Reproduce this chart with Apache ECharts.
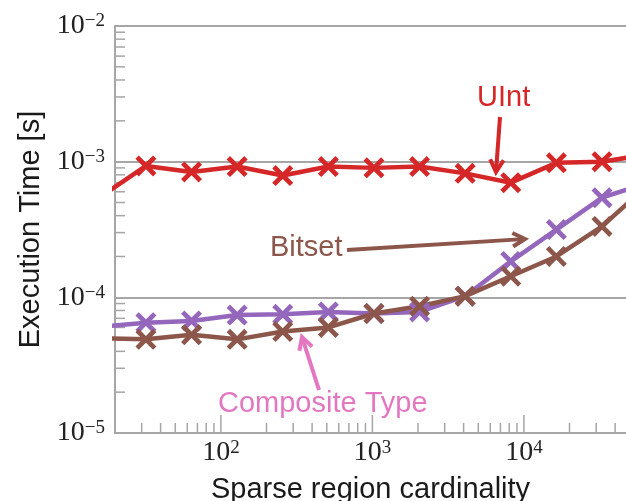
<!DOCTYPE html>
<html>
<head>
<meta charset="utf-8">
<script src="https://cdn.jsdelivr.net/npm/echarts@6/dist/echarts.min.js"></script>
<style>
html,body{margin:0;padding:0;background:#fff;}
#chart{width:626px;height:501px;}
</style>
</head>
<body>
<div id="chart"></div>
<script>
// ---- data ----
const cardinality = [16, 32, 64, 128, 256, 512, 1024, 2048, 4096, 8192, 16384, 32768, 65536];
const uintTime      = [5.5e-4, 9.3e-4, 8.4e-4, 9.2e-4, 7.9e-4, 9.2e-4, 9.0e-4, 9.2e-4, 8.2e-4, 7.0e-4, 9.8e-4, 1.0e-3, 1.13e-3];
const compositeTime = [6.05e-5, 6.5e-5, 6.7e-5, 7.4e-5, 7.5e-5, 7.8e-5, 7.6e-5, 7.8e-5, 1.02e-4, 1.84e-4, 3.16e-4, 5.43e-4, 7.0e-4];
const bitsetTime    = [5.0e-5, 4.9e-5, 5.3e-5, 4.9e-5, 5.6e-5, 6.0e-5, 7.6e-5, 8.6e-5, 1.02e-4, 1.43e-4, 2.0e-4, 3.33e-4, 6.7e-4];

const xMin = 20, xMax = 47200;
const yMin = 1e-5, yMax = 1e-2;
const xMajorTicks = [100, 1000, 10000];
const xMinorTicks = [30,40,50,60,70,80,90,200,300,400,500,600,700,800,900,2000,3000,4000,5000,6000,7000,8000,9000,20000,30000,40000];
const yMinorTicks = [2e-5,3e-5,4e-5,5e-5,6e-5,7e-5,8e-5,9e-5,2e-4,3e-4,4e-4,5e-4,6e-4,7e-4,8e-4,9e-4,2e-3,3e-3,4e-3,5e-3,6e-3,7e-3,8e-3,9e-3];

const RED = '#d62728', PURPLE = '#9467bd', BROWN = '#8c564b', PINK = '#e377c2';
const GRAY = '#a6a6a6';
const XSYM = 'path://M0,16L16,0L50,34L84,0L100,16L66,50L100,84L84,100L50,66L16,100L0,84L34,50Z';

function pairs(ys){ return cardinality.map((x,i)=>[x, ys[i]]); }

function isPow10(v){ const e=Math.round(Math.log10(v)); return Math.abs(v/Math.pow(10,e)-1)<1e-6; }
function powLabel(v){
  if(!isPow10(v)) return '';
  const e=Math.round(Math.log10(v));
  const s = (e<0? '\u2212':'') + Math.abs(e);
  return '{b|10}{s|' + s + '}';
}
const richStyle = {
  b:{fontFamily:'Liberation Serif', fontSize:28, lineHeight:28, color:'#222'},
  s:{fontFamily:'Liberation Serif', fontSize:19, lineHeight:19, color:'#222', verticalAlign:'top'}
};

function tickSeries(data, horizontal, len){
  return {
    type:'custom', silent:true, z:1,
    data: data,
    renderItem: function(params, api){
      const p = api.coord([api.value(0), api.value(1)]);
      const shape = horizontal ? {x1:p[0], y1:p[1], x2:p[0]+len, y2:p[1]} : {x1:p[0], y1:p[1], x2:p[0], y2:p[1]-len};
      return {type:'line', shape:shape, style:{stroke:GRAY, lineWidth:1.5}};
    }
  };
}

function lineSeries(name, ys, color){
  return {
    name:name, type:'line', data:pairs(ys), clip:true,
    symbol:XSYM, symbolSize:21, showAllSymbol:true,
    lineStyle:{color:color, width:4.5},
    itemStyle:{color:color, borderWidth:0},
    emphasis:{disabled:true}
  };
}

function arrow(x1,y1,x2,y2,color){
  const ang = Math.atan2(y2-y1, x2-x1);
  const L = 14, a = 0.5;
  const p1 = [x2 - L*Math.cos(ang-a), y2 - L*Math.sin(ang-a)];
  const p2 = [x2 - L*Math.cos(ang+a), y2 - L*Math.sin(ang+a)];
  return [
    {type:'line', shape:{x1:x1,y1:y1,x2:x2-2*Math.cos(ang),y2:y2-2*Math.sin(ang)}, style:{stroke:color, lineWidth:4}, z:10},
    {type:'polyline', shape:{points:[p1,[x2,y2],p2]}, style:{stroke:color, lineWidth:4, fill:null, lineJoin:'miter'}, z:10}
  ];
}
function label(text,x,y,color){
  return {type:'text', x:x, y:y, z:10, style:{text:text, fill:color, font:'29px "Liberation Sans"', verticalAlign:'middle', align:'left'}};
}

const chart = echarts.init(document.getElementById('chart'), null, {renderer:'canvas'});
chart.setOption({
  animation:false,
  backgroundColor:'#fff',
  grid:{left:115, right:0, top:26, bottom:68, containLabel:false, outerBoundsMode:'none'},
  xAxis:{
    type:'log', logBase:10, min:xMin, max:xMax,
    name:'Sparse region cardinality', nameLocation:'middle', nameGap:42,
    nameTextStyle:{fontFamily:'Liberation Sans', fontSize:29, color:'#1a1a1a'},
    axisLine:{show:true, lineStyle:{color:GRAY, width:2}},
    axisTick:{show:false}, minorTick:{show:false},
    splitLine:{show:false},
    axisLabel:{margin:6, showMinLabel:false, showMaxLabel:false, formatter:powLabel, rich:richStyle}
  },
  yAxis:{
    type:'log', logBase:10, min:yMin, max:yMax,
    name:'Execution Time [s]', nameLocation:'middle', nameGap:68, nameRotate:90,
    nameTextStyle:{fontFamily:'Liberation Sans', fontSize:29, color:'#1a1a1a'},
    axisLine:{show:true, lineStyle:{color:GRAY, width:2}},
    axisTick:{show:false}, minorTick:{show:false},
    splitLine:{show:true, lineStyle:{color:GRAY, width:2}},
    axisLabel:{margin:10, formatter:powLabel, rich:richStyle}
  },
  series:[
    tickSeries(xMinorTicks.map(v=>[v, yMin]), false, 10),
    tickSeries(xMajorTicks.map(v=>[v, yMin]), false, 18),
    tickSeries(yMinorTicks.map(v=>[xMin, v]), true, 10),
    lineSeries('UInt', uintTime, RED),
    lineSeries('Composite Type', compositeTime, PURPLE),
    lineSeries('Bitset', bitsetTime, BROWN)
  ],
  graphic:[].concat(
    [label('UInt', 477, 98, RED)],
    arrow(500,117,496,172,RED),
    [label('Bitset', 270, 248, BROWN)],
    arrow(347,250,525,239,BROWN),
    [label('Composite Type', 218, 404, PINK)],
    arrow(319,390,302,337,PINK)
  )
});
</script>
</body>
</html>
